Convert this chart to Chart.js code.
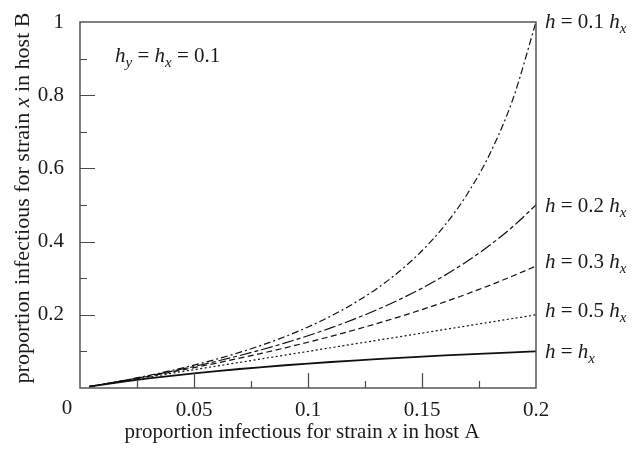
<!DOCTYPE html>
<html>
<head>
<meta charset="utf-8">
<script src="https://cdn.jsdelivr.net/npm/chart.js@4.4.1/dist/chart.umd.min.js"></script>
<style>
  html, body { margin: 0; padding: 0; background: #fff; }
  #c { display: block; }
</style>
</head>
<body>
<canvas id="c" width="634" height="453"></canvas>
<script>
// proportion infectious for strain x in host A (x values)
const xA = [0.004, 0.01, 0.02, 0.03, 0.04, 0.05, 0.06, 0.07, 0.08, 0.09, 0.1,
            0.11, 0.12, 0.13, 0.14, 0.15, 0.16, 0.17, 0.18, 0.19, 0.2];
// proportion infectious for strain x in host B, one array per curve
const h01 = [0.0041, 0.0104, 0.0217, 0.0341, 0.0476, 0.0625, 0.0789, 0.0972, 0.1176, 0.1406, 0.1667,
             0.1964, 0.2308, 0.2708, 0.3182, 0.375, 0.4444, 0.5313, 0.6429, 0.7917, 1.0];
const h02 = [0.0040, 0.0103, 0.0213, 0.0330, 0.0455, 0.0588, 0.0732, 0.0886, 0.1053, 0.1233, 0.1429,
             0.1642, 0.1875, 0.2131, 0.2414, 0.2727, 0.3077, 0.3469, 0.3913, 0.4419, 0.5];
const h03 = [0.0040, 0.0102, 0.0208, 0.0319, 0.0435, 0.0556, 0.0682, 0.0814, 0.0952, 0.1098, 0.125,
             0.1410, 0.1579, 0.1757, 0.1944, 0.2143, 0.2353, 0.2576, 0.2813, 0.3065, 0.3333];
const h05 = [0.004, 0.01, 0.02, 0.03, 0.04, 0.05, 0.06, 0.07, 0.08, 0.09, 0.1,
             0.11, 0.12, 0.13, 0.14, 0.15, 0.16, 0.17, 0.18, 0.19, 0.2];
const h10 = [0.0039, 0.0095, 0.0182, 0.0261, 0.0333, 0.04, 0.0462, 0.0519, 0.0571, 0.0621, 0.0667,
             0.0710, 0.075, 0.0788, 0.0824, 0.0857, 0.0889, 0.0919, 0.0947, 0.0974, 0.1];
const seriesNames = ['0.1', '0.2', '0.3', '0.5', ''];
const xTitle = ['proportion infectious for strain ', 'x', ' in host A'];
const yTitle = ['proportion infectious for strain ', 'x', ' in host B'];

const FONT = '"Liberation Serif", "Times New Roman", serif';
const FS = 21;
const INK = '#1a1a1a';

function pts(ys) { return xA.map((x, i) => ({ x: x, y: ys[i] })); }

const styles = [
  { data: h01, dash: [7, 3, 2, 3], w: 1.2 },
  { data: h02, dash: [12, 3, 4, 3], w: 1.2 },
  { data: h03, dash: [6, 3.5], w: 1.2 },
  { data: h05, dash: [2, 2.5], w: 1.2 },
  { data: h10, dash: [], w: 1.8 }
];
const labelOffsets = [6, 7, 2, 2, 7];

function drawRich(ctx, x, y, parts, fs) {
  fs = fs || FS;
  let cx = x;
  for (const p of parts) {
    const size = p.sub ? Math.round(fs * 0.72) : fs;
    ctx.font = (p.it ? 'italic ' : '') + size + 'px ' + FONT;
    ctx.fillText(p.t, cx, y + (p.sub ? 5 : 0));
    cx += ctx.measureText(p.t).width;
  }
  return cx - x;
}
function richWidth(ctx, parts, fs) {
  fs = fs || FS;
  let w = 0;
  for (const p of parts) {
    const size = p.sub ? Math.round(fs * 0.72) : fs;
    ctx.font = (p.it ? 'italic ' : '') + size + 'px ' + FONT;
    w += ctx.measureText(p.t).width;
  }
  return w;
}

const decor = {
  id: 'decor',
  afterDraw(chart) {
    const ctx = chart.ctx;
    const a = chart.chartArea;
    const xs = chart.scales.x, ys = chart.scales.y;
    ctx.save();
    // frame
    ctx.strokeStyle = '#4a4a4a';
    ctx.lineWidth = 1.4;
    ctx.strokeRect(a.left, a.top, a.right - a.left, a.bottom - a.top);
    // inward tick marks
    ctx.lineWidth = 1.2;
    ctx.beginPath();
    ys.ticks.forEach(t => {
      const r = Math.round(t.value * 10);
      if (r <= 0 || r >= 10) return;
      const len = (r % 2 === 0) ? 15 : 7;
      const py = Math.round(ys.getPixelForValue(t.value)) + 0.5;
      ctx.moveTo(a.left, py); ctx.lineTo(a.left + len, py);
    });
    xs.ticks.forEach(t => {
      const r = Math.round(t.value * 1000);
      if (r <= 0 || r >= 200) return;
      const len = (r % 50 === 0) ? 15 : 7;
      const px = Math.round(xs.getPixelForValue(t.value)) + 0.5;
      ctx.moveTo(px, a.bottom); ctx.lineTo(px, a.bottom - len);
    });
    ctx.stroke();

    ctx.fillStyle = INK;
    // corner zero label
    ctx.font = FS + 'px ' + FONT;
    ctx.textAlign = 'center';
    ctx.textBaseline = 'middle';
    ctx.fillText('0', xs.getPixelForValue(0) - 13, a.bottom + 20);

    ctx.textAlign = 'left';
    ctx.textBaseline = 'alphabetic';
    // x title
    const xParts = [{ t: xTitle[0] }, { t: xTitle[1], it: true }, { t: xTitle[2] }];
    const xw = richWidth(ctx, xParts);
    drawRich(ctx, (a.left + a.right) / 2 - 6 - xw / 2, 438, xParts);
    // y title
    const YFS = 22;
    const yParts = [{ t: yTitle[0] }, { t: yTitle[1], it: true }, { t: yTitle[2] }];
    const yw = richWidth(ctx, yParts, YFS);
    ctx.save();
    ctx.translate(29, 198);
    ctx.rotate(-Math.PI / 2);
    drawRich(ctx, -yw / 2, 0, yParts, YFS);
    ctx.restore();

    // annotation
    drawRich(ctx, a.left + 35, 62, [
      { t: 'h', it: true }, { t: 'y', it: true, sub: true }, { t: ' = ' },
      { t: 'h', it: true }, { t: 'x', it: true, sub: true }, { t: ' = 0.1' }
    ]);
    // curve labels
    styles.forEach((s, i) => {
      const yv = s.data[s.data.length - 1];
      const py = ys.getPixelForValue(yv) + labelOffsets[i];
      const px = xs.getPixelForValue(xA[xA.length - 1]) + 9;
      const parts = [{ t: 'h', it: true }, { t: ' = ' + (seriesNames[i] ? seriesNames[i] + ' ' : '') },
                     { t: 'h', it: true }, { t: 'x', it: true, sub: true }];
      drawRich(ctx, px, py, parts);
    });
    ctx.restore();
  }
};

Chart.defaults.font.family = FONT;
Chart.defaults.font.size = FS;
Chart.defaults.color = INK;

new Chart(document.getElementById('c'), {
  type: 'line',
  data: {
    datasets: styles.map(s => ({
      data: pts(s.data),
      borderColor: '#111',
      borderWidth: s.w,
      borderDash: s.dash,
      pointRadius: 0,
      fill: false,
      cubicInterpolationMode: 'monotone'
    }))
  },
  options: {
    responsive: false,
    animation: false,
    events: [],
    layout: { padding: { top: 22, right: 98, left: 0, bottom: 0 } },
    plugins: { legend: { display: false }, tooltip: { enabled: false } },
    scales: {
      x: {
        type: 'linear', min: 0, max: 0.2,
        grid: { display: false },
        border: { display: false },
        afterFit(scale) { scale.height = 65; },
        ticks: {
          stepSize: 0.025, autoSkip: false, maxRotation: 0, padding: 2,
          callback(v) {
            const r = Math.round(v * 1000);
            if (r === 0 || r % 50 !== 0) return '';
            return String(r / 1000);
          }
        }
      },
      y: {
        type: 'linear', min: 0, max: 1,
        grid: { display: false },
        border: { display: false },
        afterFit(scale) { scale.width = 80; },
        ticks: {
          stepSize: 0.1, autoSkip: false, padding: 8,
          callback(v) {
            const r = Math.round(v * 10);
            if (r === 0 || r % 2 !== 0) return '';
            return String(r / 10);
          }
        }
      }
    }
  },
  plugins: [decor]
});
</script>
</body>
</html>
